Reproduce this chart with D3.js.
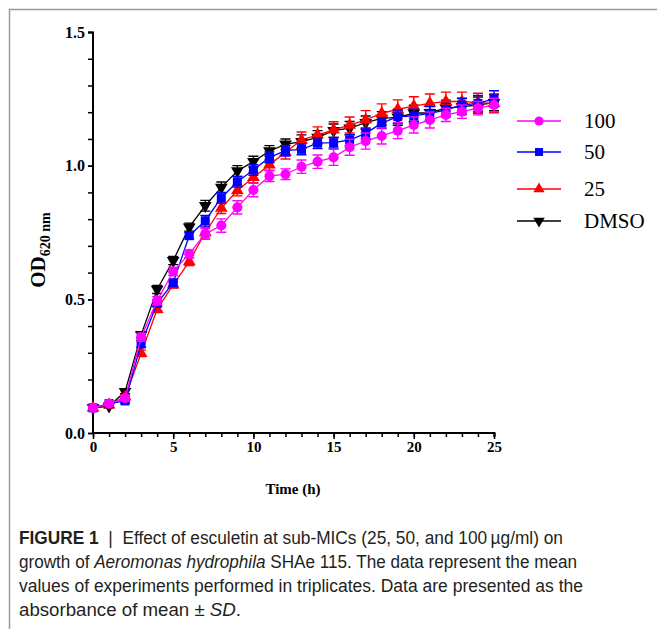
<!DOCTYPE html>
<html><head><meta charset="utf-8">
<script src="https://cdn.jsdelivr.net/npm/d3@7"></script>
<style>
html,body{margin:0;padding:0;background:#fff;}
svg{display:block;}
</style></head>
<body>
<svg id="chart" width="657" height="629"></svg>
<script>
const times = [0,1,2,3,4,5,6,7,8,9,10,11,12,13,14,15,16,17,18,19,20,21,22,23,24,25];
const seriesNames = ["100","50","25","DMSO"];
const od100  = [0.094,0.110,0.130,0.358,0.495,0.604,0.670,0.745,0.776,0.844,0.909,0.961,0.968,0.996,1.015,1.031,1.069,1.092,1.111,1.131,1.152,1.171,1.190,1.202,1.215,1.227];
const od50   = [0.094,0.110,0.120,0.333,0.485,0.562,0.738,0.794,0.880,0.940,0.984,1.031,1.056,1.061,1.084,1.086,1.096,1.121,1.159,1.183,1.186,1.196,1.208,1.227,1.233,1.250];
const od25   = [0.094,0.105,0.135,0.298,0.463,0.554,0.641,0.750,0.841,0.907,0.956,1.003,1.050,1.096,1.115,1.134,1.152,1.171,1.196,1.211,1.223,1.233,1.240,1.240,1.236,1.233];
const odDMSO = [0.094,0.100,0.155,0.367,0.537,0.645,0.770,0.850,0.919,0.980,1.015,1.055,1.080,1.090,1.106,1.131,1.140,1.161,1.177,1.181,1.196,1.198,1.215,1.221,1.227,1.236];
const sd100  = [0.005,0.006,0.010,0.015,0.015,0.015,0.015,0.020,0.025,0.025,0.025,0.020,0.020,0.025,0.025,0.030,0.030,0.030,0.030,0.030,0.030,0.030,0.025,0.025,0.025,0.025];
const sd50   = [0.005,0.006,0.008,0.012,0.012,0.012,0.012,0.020,0.020,0.020,0.020,0.020,0.020,0.020,0.020,0.020,0.020,0.020,0.020,0.025,0.025,0.025,0.025,0.025,0.030,0.030];
const sd25   = [0.005,0.006,0.008,0.012,0.012,0.012,0.015,0.020,0.020,0.020,0.020,0.020,0.025,0.030,0.030,0.030,0.030,0.035,0.035,0.035,0.035,0.035,0.035,0.035,0.035,0.035];
const sdDMSO = [0.005,0.006,0.008,0.012,0.015,0.015,0.015,0.020,0.020,0.020,0.020,0.020,0.020,0.025,0.025,0.025,0.025,0.025,0.025,0.030,0.030,0.030,0.030,0.030,0.030,0.030];
const colors = ["#ff00ff","#0000ff","#ff0000","#000000"];
const yTicks = [0.0,0.5,1.0,1.5];
const xTicks = [0,5,10,15,20,25];
const captionLines = [
  [{t:"FIGURE 1",b:true},{t:"  |  "},{t:"Effect of esculetin at sub-MICs (25, 50, and 100\u2009\u00b5g/ml) on"}],
  [{t:"growth of "},{t:"Aeromonas hydrophila",i:true},{t:" SHAe 115. The data represent the mean"}],
  [{t:"values of experiments performed in triplicates. Data are presented as the"}],
  [{t:"absorbance of mean \u00b1 "},{t:"SD",i:true},{t:"."}]
];
const captionWidths = [544,558,564,222];

const series = [
  {name:seriesNames[0], values:od100, sd:sd100, color:colors[0], sym:d3.symbolCircle, size:80, rot:0},
  {name:seriesNames[1], values:od50, sd:sd50, color:colors[1], sym:d3.symbolSquare, size:81, rot:0},
  {name:seriesNames[2], values:od25, sd:sd25, color:colors[2], sym:d3.symbolTriangle, size:70, rot:0},
  {name:seriesNames[3], values:odDMSO, sd:sdDMSO, color:colors[3], sym:d3.symbolTriangle, size:70, rot:180}
];

const svg = d3.select("#chart");
// frame
svg.append("path").attr("d","M9.5,629 L9.5,9.5 L657,9.5").attr("fill","none").attr("stroke","#9a9a9a").attr("stroke-width",1.5);

const x = d3.scaleLinear().domain([0,25]).range([93,494]);
const y = d3.scaleLinear().domain([0,1.5]).range([433,32]);
const serif = "'Liberation Serif','Times New Roman',serif";

// axes
const yAxisMinor = d3.axisLeft(y).tickValues(d3.range(0,1.51,0.1)).tickSize(5).tickFormat("");
svg.append("g").attr("transform","translate(93,0)").call(yAxisMinor)
  .call(g=>{g.select(".domain").attr("stroke-width",2).attr("d","M-5,32.5H0V433");g.selectAll("line").attr("stroke-width",1.5);});
const yAxis = d3.axisLeft(y).tickValues(yTicks).tickSize(5).tickPadding(3).tickFormat(d3.format(".1f"));
svg.append("g").attr("transform","translate(93,0)").call(yAxis)
  .call(g=>{g.select(".domain").remove();g.selectAll("line").attr("stroke-width",1.5);
    g.selectAll("text").attr("font-family",serif).attr("font-weight","bold").attr("font-size",16).attr("fill","#000");});

const xAxisMinor = d3.axisBottom(x).tickValues(d3.range(0,26,1)).tickSize(4).tickFormat("");
svg.append("g").attr("transform","translate(0,433)").call(xAxisMinor)
  .call(g=>{g.select(".domain").attr("stroke-width",2).attr("d","M93,0H494.5V4");g.selectAll("line").attr("stroke-width",1.5);});
const xAxis = d3.axisBottom(x).tickValues(xTicks).tickSize(6).tickPadding(2).tickFormat(d3.format("d"));
svg.append("g").attr("transform","translate(0,433)").call(xAxis)
  .call(g=>{g.select(".domain").remove();g.selectAll("line").attr("stroke-width",1.5);
    g.selectAll("text").attr("font-family",serif).attr("font-weight","bold").attr("font-size",15).attr("fill","#000");});

// axis titles
svg.append("text").attr("x",293).attr("y",494).attr("text-anchor","middle")
  .attr("font-family",serif).attr("font-weight","bold").attr("font-size",15).text("Time (h)");
const yl = svg.append("text").attr("transform","translate(45,250) rotate(-90)").attr("text-anchor","middle")
  .attr("font-family",serif).attr("font-weight","bold");
yl.append("tspan").attr("font-size",21).text("OD");
yl.append("tspan").attr("font-size",14).attr("dy",5).text("620 nm");

// series (draw DMSO first so 100 on top)
const line = d3.line().x((d,i)=>x(times[i])).y(d=>y(d));
[...series].reverse().forEach(s=>{
  const g = svg.append("g");
  g.append("path").attr("d",line(s.values)).attr("fill","none").attr("stroke",s.color).attr("stroke-width",1.3);
  s.values.forEach((v,i)=>{
    const cx = x(times[i]), top = y(v+s.sd[i]), bot = y(v-s.sd[i]);
    g.append("path").attr("d",`M${cx},${top}V${bot}M${cx-5},${top}H${cx+5}M${cx-5},${bot}H${cx+5}`)
      .attr("stroke",s.color).attr("stroke-width",1.4).attr("fill","none");
  });
  g.selectAll(".m").data(s.values).enter().append("path")
    .attr("d",d3.symbol().type(s.sym).size(s.size))
    .attr("transform",(d,i)=>`translate(${x(times[i])},${y(d)}) rotate(${s.rot})`)
    .attr("fill",s.color);
});

// legend
const legY = [121,152,189,221];
series.forEach((s,k)=>{
  const g = svg.append("g").attr("transform",`translate(0,${legY[k]})`);
  g.append("line").attr("x1",517).attr("x2",561).attr("y1",0).attr("y2",0).attr("stroke",s.color).attr("stroke-width",1.4);
  g.append("path").attr("d",d3.symbol().type(s.sym).size(s.size*0.8)).attr("transform",`translate(539,0) rotate(${s.rot})`).attr("fill",s.color);
  g.append("text").attr("x",584).attr("y",7).attr("font-family",serif).attr("font-size",21).text(s.name);
});

// caption
const cap = svg.append("g").attr("font-family","'Liberation Sans',Arial,sans-serif").attr("font-size",17.5).attr("fill","#231f20");
captionLines.forEach((ln,k)=>{
  const t = cap.append("text").attr("x",19).attr("y",544+k*24).attr("xml:space","preserve")
    .attr("textLength",captionWidths[k]).attr("lengthAdjust","spacingAndGlyphs");
  ln.forEach(p=>{
    const ts = t.append("tspan").text(p.t);
    if(p.b) ts.attr("font-weight","bold");
    if(p.i) ts.attr("font-style","italic");
  });
});
</script>
</body></html>
